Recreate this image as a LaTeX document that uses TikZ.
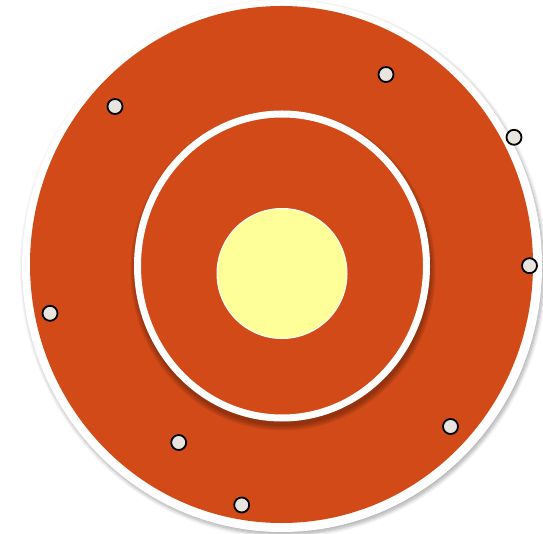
\documentclass[tikz,border=0pt]{standalone}
\usetikzlibrary{shadows.blur}
\definecolor{discorange}{HTML}{D24A17}
\definecolor{coreyellow}{HTML}{FFFF99}
\definecolor{dotfill}{HTML}{E8E5DF}
\tikzset{
  dot/.style={circle, draw=black, line width=1.8pt, fill=dotfill, minimum size=15pt, inner sep=0pt},
}
\begin{document}
\begin{tikzpicture}[x=1pt,y=-1pt]
\path[use as bounding box] (0,0) rectangle (543,534);
% outer white border with soft shadow
\fill[white, blur shadow={shadow xshift=1.5pt, shadow yshift=-2.5pt, shadow blur steps=10, shadow blur radius=4pt, shadow opacity=35}]
  (282,266) ellipse [x radius=260, y radius=266];
% outer orange disc
\fill[discorange] (281.5,264.5) ellipse [x radius=251.5, y radius=258.5];
% inner ring soft shadow (outside the ring only)
\begin{scope}[even odd rule]
\clip (0,0) rectangle (543,534) (282,266) ellipse [x radius=147.5, y radius=155];
\foreach \w in {15,12,9,6}{
  \draw[line width=\w pt, black!70!discorange, opacity=0.12] (283,270.5) ellipse [x radius=145, y radius=152.5];
}
\end{scope}
% inner white ring
\draw[white, line width=7pt] (282,266) ellipse [x radius=144.5, y radius=152];
% yellow core
\node[circle, fill=coreyellow, draw=white, line width=1pt, minimum size=130pt, inner sep=0pt] (core) at (282,273.5) {};
% small dots
\node[dot] (d1) at (115,106.5) {};
\node[dot] (d2) at (386,74.5) {};
\node[dot] (d3) at (514,137.3) {};
\node[dot] (d4) at (529.5,265.7) {};
\node[dot] (d5) at (50,313.3) {};
\node[dot] (d6) at (178.7,442.5) {};
\node[dot] (d7) at (450.5,426.5) {};
\node[dot] (d8) at (241.7,505) {};
\end{tikzpicture}
\end{document}
